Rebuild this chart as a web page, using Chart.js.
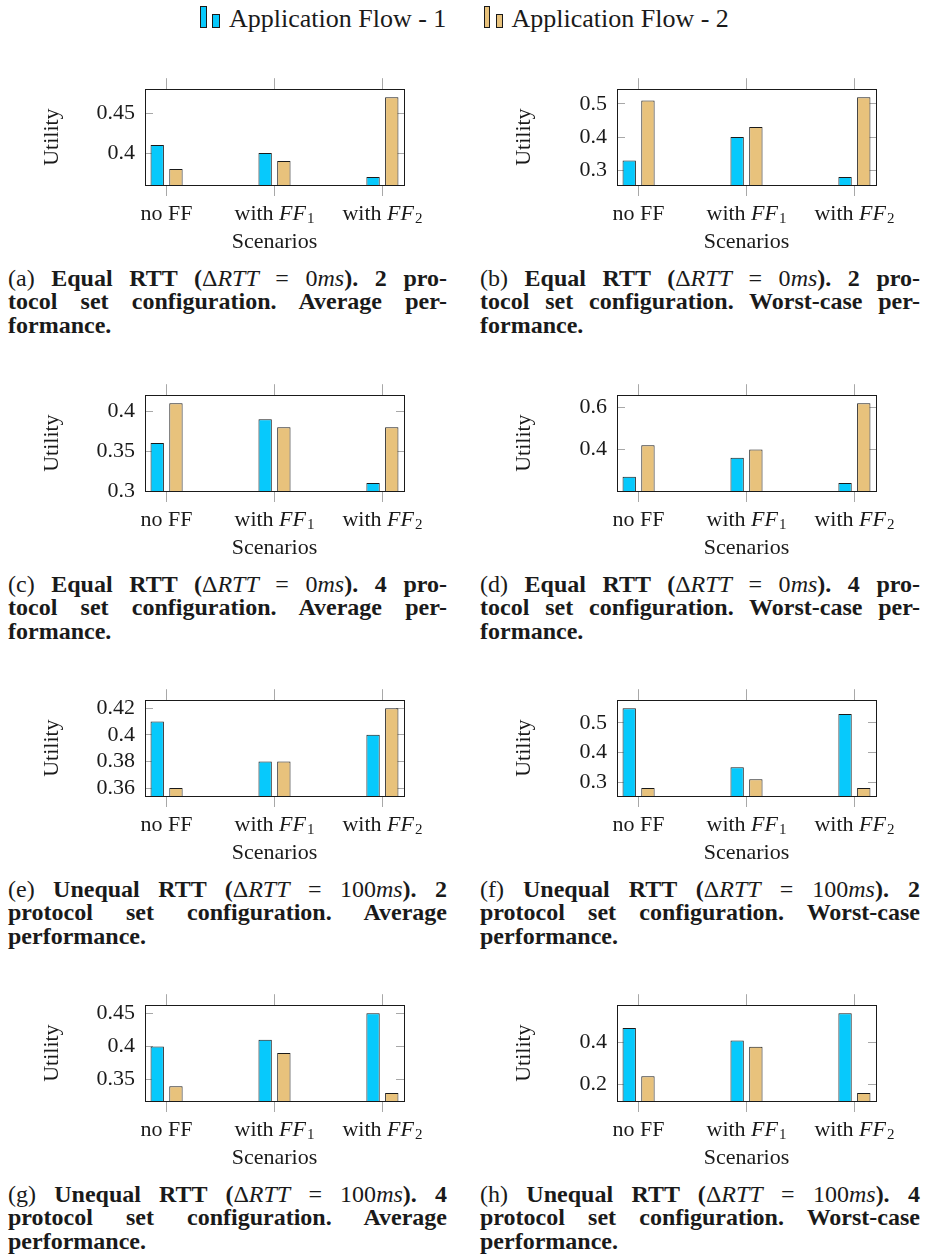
<!DOCTYPE html>
<html>
<head>
<meta charset="utf-8">
<script src="https://cdn.jsdelivr.net/npm/chart.js@4.4.0/dist/chart.umd.min.js"></script>
<style>
html,body{margin:0;padding:0;background:#fff;}
body{width:927px;height:1257px;position:relative;overflow:hidden;font-family:'Liberation Serif','Tinos','Times New Roman','DejaVu Serif',serif;color:#1a1a1a;}
canvas{position:absolute;}
.cap{position:absolute;font-size:24px;line-height:23.6px;}
.cap div{text-align:left;}
.cap div.j{text-align:justify;text-align-last:justify;}
.icon{position:absolute;box-sizing:border-box;border:1px solid #1a1a1a;}
.legtxt{position:absolute;font-size:26px;line-height:26px;white-space:nowrap;}
</style>
</head>
<body>
<div id="legend">
  <div class="icon" style="left:200px;top:5.5px;width:6.5px;height:22.5px;background:#07c9fc"></div>
  <div class="icon" style="left:212px;top:13.5px;width:7.5px;height:14.5px;background:#07c9fc"></div>
  <div class="legtxt" style="left:229px;top:6px">Application Flow - 1</div>
  <div class="icon" style="left:483.5px;top:5.5px;width:6.5px;height:22.5px;background:#e8c27c"></div>
  <div class="icon" style="left:495.5px;top:13.5px;width:7.5px;height:14.5px;background:#e8c27c"></div>
  <div class="legtxt" style="left:511.5px;top:6px">Application Flow - 2</div>
</div>
<div id="captions"></div>
<script>
// ---------- data ----------
const scenarios = ['no FF', 'with FF_1', 'with FF_2'];
const seriesNames = ['Application Flow - 1', 'Application Flow - 2'];

const flow1A = [0.41, 0.40, 0.37], flow2A = [0.38, 0.39, 0.47], ticksA = [0.4, 0.45];
const flow1B = [0.33, 0.40, 0.28], flow2B = [0.51, 0.43, 0.52], ticksB = [0.3, 0.4, 0.5];
const flow1C = [0.36, 0.39, 0.31], flow2C = [0.41, 0.38, 0.38], ticksC = [0.3, 0.35, 0.4];
const flow1D = [0.27, 0.36, 0.24], flow2D = [0.42, 0.40, 0.62], ticksD = [0.4, 0.6];
const flow1E = [0.41, 0.38, 0.40], flow2E = [0.36, 0.38, 0.42], ticksE = [0.36, 0.38, 0.4, 0.42];
const flow1F = [0.55, 0.35, 0.53], flow2F = [0.28, 0.31, 0.28], ticksF = [0.3, 0.4, 0.5];
const flow1G = [0.40, 0.41, 0.45], flow2G = [0.34, 0.39, 0.33], ticksG = [0.35, 0.4, 0.45];
const flow1H = [0.47, 0.41, 0.54], flow2H = [0.24, 0.38, 0.16], ticksH = [0.2, 0.4];

const captionsText = [
  ['(a) <b>Equal RTT (</b>Δ<i>RTT</i> = 0<i>ms</i><b>). 2 pro-</b>', '<b>tocol set configuration. Average per-</b>', '<b>formance.</b>'],
  ['(b) <b>Equal RTT (</b>Δ<i>RTT</i> = 0<i>ms</i><b>). 2 pro-</b>', '<b>tocol set configuration. Worst-case per-</b>', '<b>formance.</b>'],
  ['(c) <b>Equal RTT (</b>Δ<i>RTT</i> = 0<i>ms</i><b>). 4 pro-</b>', '<b>tocol set configuration. Average per-</b>', '<b>formance.</b>'],
  ['(d) <b>Equal RTT (</b>Δ<i>RTT</i> = 0<i>ms</i><b>). 4 pro-</b>', '<b>tocol set configuration. Worst-case per-</b>', '<b>formance.</b>'],
  ['(e) <b>Unequal RTT (</b>Δ<i>RTT</i> = 100<i>ms</i><b>). 2</b>', '<b>protocol set configuration. Average</b>', '<b>performance.</b>'],
  ['(f) <b>Unequal RTT (</b>Δ<i>RTT</i> = 100<i>ms</i><b>). 2</b>', '<b>protocol set configuration. Worst-case</b>', '<b>performance.</b>'],
  ['(g) <b>Unequal RTT (</b>Δ<i>RTT</i> = 100<i>ms</i><b>). 4</b>', '<b>protocol set configuration. Average</b>', '<b>performance.</b>'],
  ['(h) <b>Unequal RTT (</b>Δ<i>RTT</i> = 100<i>ms</i><b>). 4</b>', '<b>protocol set configuration. Worst-case</b>', '<b>performance.</b>']
];

const panels = [
  [flow1A, flow2A, ticksA], [flow1B, flow2B, ticksB],
  [flow1C, flow2C, ticksC], [flow1D, flow2D, ticksD],
  [flow1E, flow2E, ticksE], [flow1F, flow2F, ticksF],
  [flow1G, flow2G, ticksG], [flow1H, flow2H, ticksH]
];

// ---------- style / layout ----------
const FAM = "'Liberation Serif', 'Tinos', 'Times New Roman', 'DejaVu Serif', serif";
const BLUE = '#07c9fc', TAN = '#e8c27c', EDGE = '#1a1a1a', TICK = '#a8a8a8', TXT = '#1a1a1a';
const colLeft = [145, 617], rowTop = [78, 384, 689, 994];
const BOXW = 259, BOXH = 107, L = 115, T = 20, R = 35, B = 70;
const FS = 22;

function fmt(v){ return String(+v.toFixed(4)); }

function splitLabel(s){
  const m = s.match(/^(.*\s)(\w+)_(\w)$/);
  if (!m) return [{t:s, f:`${FS}px ${FAM}`, dy:0}];
  return [{t:m[1], f:`${FS}px ${FAM}`, dy:0}, {t:m[2], f:`italic ${FS}px ${FAM}`, dy:0, pad:1}, {t:m[3], f:`${Math.round(FS*0.7)}px ${FAM}`, dy:5}];
}

const xLabelPlugin = {
  id:'xLabels',
  afterDraw(chart){
    const sc = chart.scales.x, ctx = chart.ctx;
    const y = chart.chartArea.bottom + 29;
    ctx.save();
    ctx.fillStyle = TXT; ctx.textBaseline = 'middle'; ctx.textAlign = 'left';
    sc.ticks.forEach(t => {
      const parts = splitLabel(scenarios[t.value]);
      let w = 0;
      parts.forEach(p => { ctx.font = p.f; p.w = ctx.measureText(p.t).width + (p.pad || 0); w += p.w; });
      let x = sc.getPixelForValue(t.value) - w/2;
      parts.forEach(p => { ctx.font = p.f; ctx.fillText(p.t, x, y + p.dy); x += p.w; });
    });
    ctx.restore();
  }
};

function makeChart(idx){
  const [f1, f2, yt] = panels[idx];
  const col = idx % 2, row = Math.floor(idx / 2);
  const all = f1.concat(f2);
  const mn = Math.min(...all), mx = Math.max(...all), rg = mx - mn;
  const lo = mn - 0.1*rg, hi = mx + 0.1*rg;

  const cv = document.createElement('canvas');
  cv.width = L + BOXW + R; cv.height = T + BOXH + B;
  cv.style.left = (colLeft[col] - L) + 'px';
  cv.style.top = (rowTop[row] - T) + 'px';
  document.body.appendChild(cv);

  const xTicks = s => { s.ticks = scenarios.map((_, i) => ({value:i})); };
  const yTicks = s => { s.ticks = yt.map(v => ({value:v})); };
  const border = {display:true, color:EDGE, width:1};
  const font = {family:FAM, size:FS};
  const xGrid = {offset:false, drawOnChartArea:false, drawTicks:true, tickLength:11, color:TICK, tickColor:TICK, lineWidth:1};
  const yGrid = {offset:false, drawOnChartArea:false, drawTicks:true, tickLength:-8, color:TICK, tickColor:TICK, lineWidth:1};

  new Chart(cv, {
    type:'bar',
    data:{
      datasets:[
        {label:seriesNames[0], data:f1.map((v,i)=>({x:i, y:v})), backgroundColor:BLUE, borderColor:EDGE, borderWidth:1, borderSkipped:'start', categoryPercentage:0.347, barPercentage:0.713},
        {label:seriesNames[1], data:f2.map((v,i)=>({x:i, y:v})), backgroundColor:TAN, borderColor:EDGE, borderWidth:1, borderSkipped:'start', categoryPercentage:0.347, barPercentage:0.713}
      ]
    },
    options:{
      responsive:false, animation:false, devicePixelRatio:1,
      layout:{padding:0, autoPadding:false},
      plugins:{legend:{display:false}, tooltip:{enabled:false}},
      scales:{
        x:{type:'linear', position:'bottom', offset:false, bounds:'data', min:-0.2, max:2.2, afterBuildTicks:xTicks,
           ticks:{display:false},
           grid:xGrid, border:border,
           title:{display:true, text:'Scenarios', font:font, color:TXT, padding:{top:0, bottom:0}},
           afterFit:s=>{s.height = B;}},
        x2:{type:'linear', position:'top', offset:false, bounds:'data', min:-0.2, max:2.2, afterBuildTicks:xTicks,
           ticks:{display:false},
           grid:xGrid, border:border,
           afterFit:s=>{s.height = T;}},
        y:{type:'linear', position:'left', min:lo, max:hi, afterBuildTicks:yTicks,
           ticks:{padding:18, font:font, color:TXT, callback:v=>fmt(v)},
           grid:yGrid, border:border,
           title:{display:true, text:'Utility', font:font, color:TXT, padding:{top:9, bottom:0}},
           afterFit:s=>{s.width = L;}},
        y2:{type:'linear', position:'right', min:lo, max:hi, afterBuildTicks:yTicks,
           ticks:{display:false},
           grid:yGrid, border:border,
           afterFit:s=>{s.width = R;}}
      }
    },
    plugins:[xLabelPlugin]
  });

  // caption
  const cap = document.createElement('div');
  cap.className = 'cap';
  cap.style.left = (col === 0 ? 8 : 480) + 'px';
  cap.style.width = (col === 0 ? 439 : 440) + 'px';
  cap.style.top = (rowTop[row] + 188.5) + 'px';
  const lines = captionsText[idx];
  cap.innerHTML = lines.map((l, i) => `<div class="${i < lines.length - 1 ? 'j' : ''}">${l}</div>`).join('');
  document.getElementById('captions').appendChild(cap);
}

for (let i = 0; i < panels.length; i++) makeChart(i);
</script>
</body>
</html>
